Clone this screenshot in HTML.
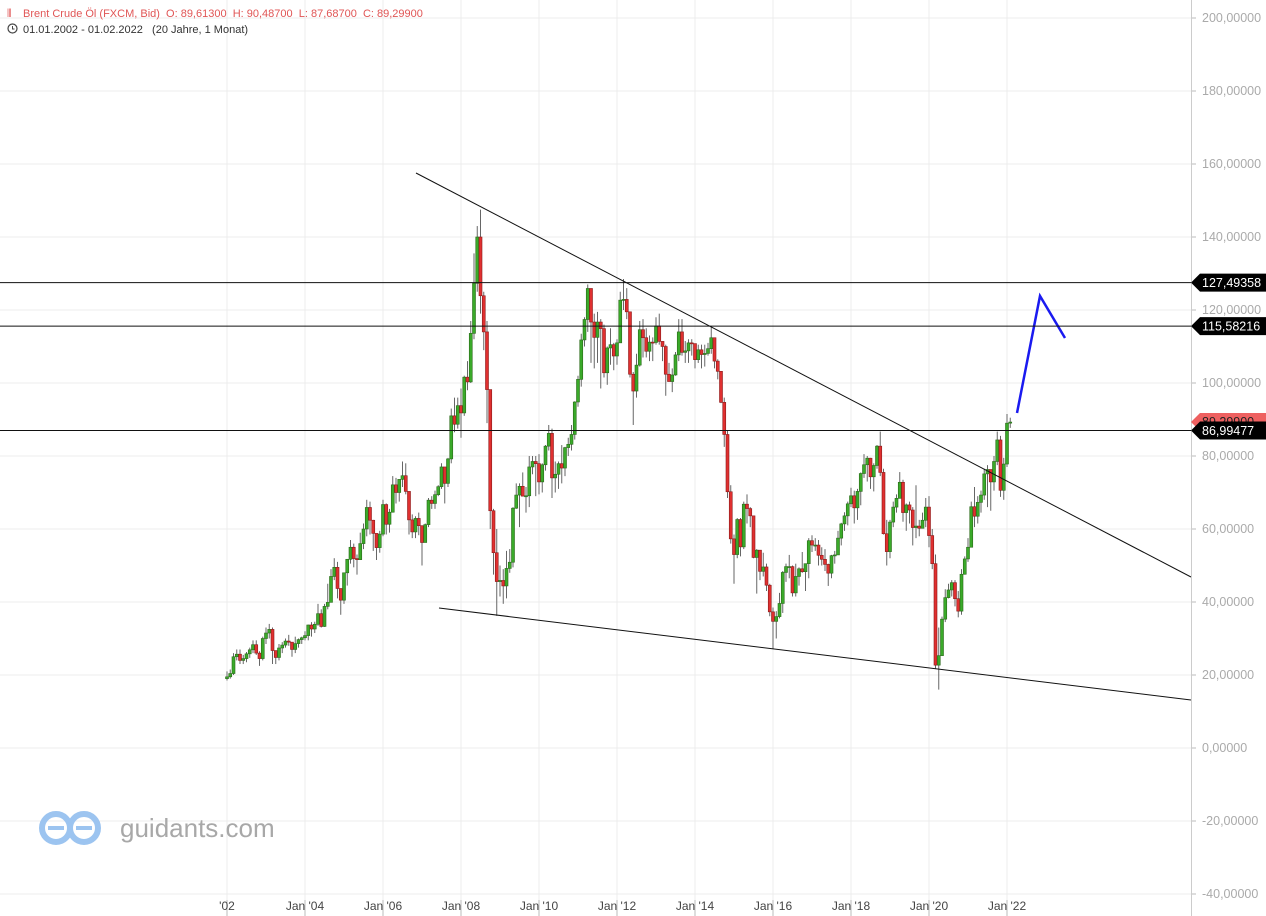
<!DOCTYPE html>
<html><head><meta charset="utf-8"><style>
body{margin:0;background:#fff;font-family:"Liberation Sans",sans-serif}
svg{display:block}
text.pre{white-space:pre}
</style></head><body>
<svg id="c" width="1266" height="916">
<g id="grid"></g><g id="candles"></g><g id="draw"></g><g id="axis"></g>
<g>
<text x="7" y="17" font-size="11" fill="#e05555">⫴</text>
<text class="pre" x="23" y="17" font-size="11" fill="#e05555">Brent Crude Öl (FXCM, Bid)  O: 89,61300  H: 90,48700  L: 87,68700  C: 89,29900</text>
<circle cx="12.5" cy="28.5" r="4.5" fill="none" stroke="#444" stroke-width="1.2"/><path d="M12.5 26v3h2" stroke="#444" fill="none"/>
<text class="pre" x="23" y="33" font-size="11" fill="#333">01.01.2002 - 01.02.2022   (20 Jahre, 1 Monat)</text>
</g>
<g>
<circle cx="56" cy="828" r="14" fill="none" stroke="#9cc4f0" stroke-width="6"/>
<circle cx="84" cy="828" r="14" fill="none" stroke="#9cc4f0" stroke-width="6"/>
<rect x="48" y="826" width="16" height="4" fill="#9cc4f0"/><rect x="76" y="826" width="16" height="4" fill="#9cc4f0"/>
<text x="120" y="837" font-size="26" fill="#a8a8a8">guidants.com</text>
</g>
</svg>
<script>
const closes=[19.5,20.4,25.0,25.7,24.0,24.5,25.8,26.9,28.3,26.0,24.5,30.0,
31.5,32.5,26.7,24.8,27.4,28.2,29.3,29.0,27.0,28.6,29.7,30.2,
30.8,33.7,32.6,33.9,36.8,33.3,38.8,39.9,47.0,49.5,43.7,40.5,
48.0,51.7,55.0,51.9,51.6,56.0,60.0,65.9,62.4,58.8,54.9,58.6,
66.7,61.3,64.6,72.1,70.0,73.6,74.6,70.3,62.5,59.2,62.9,60.9,
56.3,61.2,67.9,67.0,69.4,71.6,77.0,72.5,79.2,91.0,88.7,93.8,
91.8,101.6,100.3,113.6,127.3,140.0,123.9,114.0,98.2,65.0,53.5,45.6,
45.9,44.4,49.2,50.9,65.7,69.3,71.7,69.0,69.1,77.0,78.5,77.9,
72.9,77.6,82.7,86.2,74.0,75.0,77.9,76.7,82.3,83.2,85.9,94.8,
101.0,111.8,117.4,125.9,116.7,112.5,116.7,114.9,102.8,109.6,110.5,107.4,
111.0,122.7,122.9,119.5,102.4,97.8,104.9,114.6,112.4,108.7,111.2,111.1,
115.6,111.4,110.0,102.4,100.4,102.2,107.7,114.0,108.4,108.8,111.0,110.8,
106.4,109.1,107.8,108.1,109.4,112.4,106.0,103.2,94.7,85.9,70.2,57.3,
53.0,62.6,55.1,66.8,65.6,63.6,52.2,54.2,48.4,49.6,44.6,37.3,
34.7,36.0,39.6,48.1,49.7,49.7,42.5,47.0,49.1,48.3,50.5,56.8,
55.6,55.6,52.8,51.7,50.3,47.9,52.7,52.9,57.5,61.4,63.6,66.9,
69.1,65.8,70.3,75.2,77.6,79.4,74.3,77.4,82.7,75.5,58.7,53.8,
61.9,66.0,68.4,72.8,64.5,66.6,65.2,60.4,60.8,60.2,62.4,66.0,
58.2,50.5,22.7,25.3,35.3,41.2,43.3,45.3,40.9,37.5,47.6,51.8,
55.0,66.1,63.5,67.3,69.3,75.1,76.3,72.9,78.5,84.4,70.6,77.8,
89.0,89.3];
const highs=[21,21.5,26,27,27,25.5,26.3,27.5,29.5,29.5,26.5,30.5,
33,34,33,26.5,28.5,29,30,31,29,30.5,30,30.5,
32,33.8,34.5,34.6,39.5,38,39.5,45,49,52,51,43,
48,51.8,57,56,53,59,61.5,68,67.5,62.5,58,59.5,
68,67,65.5,74.5,74,73.5,78.5,78,70,64,63.5,64.5,
61,61.5,68.5,69,70.5,72,78,76,79.5,93,96,96,
98.5,102,106,117,135.5,143,147.5,125,117,97,65.5,60,
50,49,54,54.5,66,72.5,72.5,75.5,71.5,80,80,80,
80.5,78,83,88.5,87.5,78.5,78.5,83,82.5,85,88.5,95,
102,113.5,118,127,125.5,119,119.5,117.5,116,110,115,111,
112,125,128.5,126,119.5,103,108,117,117.5,115,113,112.5,
118,119,111,110.5,105.5,104,108.5,117.5,117.5,111.5,112,112,
110,110.5,110.5,110.5,111,115.5,112,106.5,103,96,87,72,
58.5,63,63,67.5,69.5,66,62,54.5,54,53.5,50.5,45,
38.5,37.5,42.5,48.5,50.5,52.9,50,50.5,49.5,53.7,50.5,57.5,
58.3,57.5,57,55,54.5,50.5,52.9,54,59.5,61.7,64.6,67.5,
71.3,70.5,71,75.5,80.5,80,79.5,78,83,86.7,76.5,62.5,
62.5,67.5,69.5,75.6,73.5,67,67.5,66,72,62.5,64.5,68.5,
69,60,53,33,36,43.5,45,46,46,43,49,52.5,
57.5,67.5,71.5,69,70.5,76.5,77.5,76,80,86.7,85.5,79.5,
91.5,90.5];
const lows=[18.5,19,20,24,23,23,23.5,24.7,26,25.5,22.5,24,
28.5,30,23,23,24,26,27.5,28,25,26,27.5,28.5,
29.5,29.5,30.5,31.5,33.5,33,33.2,38,40,46,41,36.5,
39.5,44.5,50.5,49.5,47.5,51.5,54.5,58,58.5,54,51.5,53.5,
58,58.5,59,64.5,67,67.5,71.5,69.5,58.5,57.5,57.5,58.3,
50,56.5,60.5,65.5,65.5,69,71,67,71.5,78,86.5,87.5,
85,91,98,100,112,125,119,109,89,60,47.5,36.2,
41.5,39.5,41,48,49.5,65.5,60.5,69,64.5,66,75,69,
69.5,70,76,81.5,68.5,70,71,72.5,74.5,80,81.5,84.5,
93.5,99,110,114,105.5,104,105.5,98.5,101.5,99.5,105,103.5,
105,111,120,117.5,101.5,88.5,96,104.5,107,107,106,106,
110.5,110.5,106,96.5,100.5,97.5,102,106,107.5,105.5,105.5,107.5,
104,105.5,104,104.5,107.5,108,104,101,94.5,82.5,68.5,56,
45,52,52.5,54.5,61.5,60.5,52,42.3,46,47,43,36.1,
27.1,30,35.5,37,45.5,46.5,41.5,41.5,44.5,48,43,46.5,
53.7,54,50,50,48.5,44.4,46.5,50.5,53.5,55.5,59.5,61,
66,61.5,62.5,66.5,74,73,71,70.3,76.5,74.5,58.5,50,
52,60.5,64.5,68.5,62,59.5,61.5,55.5,57.5,58,60.5,60.5,
55,49,21.7,16,27.5,34.5,41,41.5,38.8,35.8,36.5,47.5,
51,55,60.5,61.5,64.5,68,66,65,70.5,77.5,68.8,68,
77,87.7];
const firstOpen=19.0;
const yTicks=[200,180,160,140,120,100,80,60,40,20,0,-20,-40];
const xTickLabels=["'02","Jan '04","Jan '06","Jan '08","Jan '10","Jan '12","Jan '14","Jan '16","Jan '18","Jan '20","Jan '22"];
const xTickYears=[2002,2004,2006,2008,2010,2012,2014,2016,2018,2020,2022];
const hLevels=[127.49358,115.58216,86.99477];
const lastClose=89.299;

const NS="http://www.w3.org/2000/svg";
const Y=v=>748-v*3.65;
const Xm=i=>227+i*39/12;
const Xy=yr=>227+(yr-2002)*39;
function mk(t,a,p){const e=document.createElementNS(NS,t);for(const k in a)e.setAttribute(k,a[k]);p.appendChild(e);return e;}
const grid=document.getElementById('grid'),cg=document.getElementById('candles'),dg=document.getElementById('draw'),ag=document.getElementById('axis');
yTicks.forEach(v=>{const l=mk('line',{x1:0,x2:1191,y1:Y(v),y2:Y(v),stroke:'#ececec'},grid);


mk('line',{x1:1191,x2:1196,y1:Y(v),y2:Y(v),stroke:'#bbb'},ag);
const t=mk('text',{x:1202,y:Y(v)+4,'font-size':12.5,fill:'#aaa'},ag);t.textContent=v.toFixed(5).replace('.',',');

});
xTickYears.forEach((yr,k)=>{const x=Xy(yr);const l=mk('line',{x1:x,x2:x,y1:0,y2:900,stroke:'#ececec'},grid);


mk('line',{x1:x,x2:x,y1:900,y2:916,stroke:'#bbb'},ag);
const t=mk('text',{x:x,y:910,'font-size':12,fill:'#444','text-anchor':'middle'},ag);t.textContent=xTickLabels[k];

});
mk('line',{x1:1191.5,x2:1191.5,y1:0,y2:916,stroke:'#ccc'},ag);
closes.forEach((c,i)=>{const o=i?closes[i-1]:firstOpen;const x=Xm(i);const up=c>=o;
const g=mk('g',{},cg);


mk('line',{x1:x,x2:x,y1:Y(highs[i]),y2:Y(lows[i]),stroke:'#666','stroke-width':1},g);
const top=Y(Math.max(o,c)),h=Math.max(1,Math.abs(Y(o)-Y(c)));
mk('rect',{x:x-1.5,y:top,width:3,height:h,fill:up?'#3aaa2a':'#e03030',stroke:up?'#2a6a1a':'#8a1a1a','stroke-width':0.6},g);});
[[416,173,1191,577,'upper-trendline'],[439,608,1191,700,'lower-trendline']].forEach(a=>{const l=mk('line',{x1:a[0],y1:a[1],x2:a[2],y2:a[3],stroke:'#111','stroke-width':1},dg);

});
const bl=mk('polyline',{points:'1017,413 1040,296 1065,338',fill:'none',stroke:'#1a1af0','stroke-width':2.5},dg);


const ly=Y(lastClose);
const lp=mk('path',{d:`M1191 ${ly} L1200 ${ly-9} H1266 V${ly+9} H1200 Z`,fill:'#ee6060'},ag);


const lt=mk('text',{x:1202,y:ly+4,'font-size':12.5,fill:'#222'},ag);lt.textContent='89,29900';
hLevels.forEach(v=>{const y=Y(v);const l=mk('line',{x1:0,x2:1191,y1:y,y2:y,stroke:'#111','stroke-width':1},dg);


const p=mk('path',{d:`M1191 ${y} L1200 ${y-9} H1266 V${y+9} H1200 Z`,fill:'#000'},ag);


const t=mk('text',{x:1202,y:y+4.5,'font-size':12.5,fill:'#fff'},ag);t.textContent=v.toFixed(5).replace('.',',');});
</script>
</body></html>
